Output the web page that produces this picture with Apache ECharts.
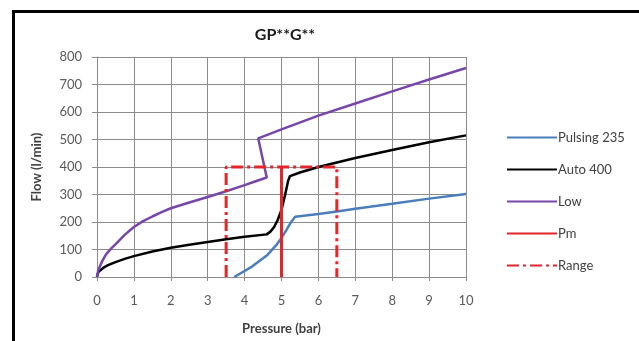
<!DOCTYPE html>
<html>
<head>
<meta charset="utf-8">
<script src="https://cdn.jsdelivr.net/npm/echarts@6/dist/echarts.min.js"></script>
<style>
    html, body { margin: 0; padding: 0; background: #fff; }
    #frame { position: absolute; left: 12px; top: 10px; width: 700px; height: 400px; border: 3px solid #000; box-sizing: border-box; }
    #chart { position: absolute; left: 0; top: 0; width: 639px; height: 341px; }
</style>
</head>
<body>
<div id="frame"></div>
<div id="chart"></div>
<script>
// values: [pressure (bar), flow (l/min)]
var pulsing235 = [[3.72, 0], [4.2, 38], [4.6, 78], [4.87, 118], [5.0, 142], [5.14, 172], [5.25, 198], [5.37, 219], [6, 229], [6.5, 238], [7, 248], [8, 266], [9, 285], [10, 302]];
var auto400 = [[0, 0], [0.02, 12], [0.05, 20], [0.1, 27], [0.2, 36], [0.3, 43], [0.5, 54], [0.75, 66], [1, 76], [1.5, 93], [2, 106], [2.5, 117], [3, 127], [3.5, 137], [4, 146], [4.6, 155], [4.7, 165], [4.8, 182], [4.9, 208], [5.0, 245], [5.1, 300], [5.18, 350], [5.23, 367], [5.5, 380], [6, 400], [7, 433], [8, 462], [9, 490], [10, 515]];
var low = [[0, 0], [0.03, 22], [0.07, 36], [0.1, 45], [0.15, 60], [0.25, 83], [0.4, 106], [0.5, 119], [0.75, 153], [1, 182], [1.25, 203], [1.5, 220], [1.75, 236], [2, 250], [2.5, 271], [3, 291], [3.5, 312], [4, 334], [4.3, 348], [4.6, 362], [4.37, 504], [5, 537], [6, 587], [7, 631], [8, 675], [9, 718], [10, 760]];
var pm = [[5, 0], [5, 400]];
var range = [[3.5, 0], [3.5, 400], [6.5, 400], [6.5, 0]];

var seriesNames = ['Pulsing 235', 'Auto 400', 'Low', 'Pm', 'Range'];
var xTicks = { min: 0, max: 10, interval: 1 };
var yTicks = { min: 0, max: 800, interval: 100 };

function lineSeries(name, data, color, width, dash) {
    return {
        name: name,
        type: 'line',
        data: data,
        symbol: 'none',
        smooth: false,
        lineStyle: { color: color, width: width, type: dash || 'solid' },
        itemStyle: { color: color }
    };
}

var myChart = echarts.init(document.getElementById('chart'), null, { renderer: 'canvas' });
myChart.setOption({
    animation: false,
    textStyle: { fontFamily: 'Lato, "Noto Sans", sans-serif' },
    title: {
        text: 'GP**G**',
        left: 280,
        top: 22,
        textAlign: 'center',
        textStyle: { fontSize: 16, fontWeight: 'bold', color: '#1a1a1a' }
    },
    legend: {
        data: seriesNames,
        orient: 'vertical',
        left: 501,
        top: 126,
        itemWidth: 50,
        itemHeight: 14,
        itemGap: 19,
        itemStyle: { opacity: 0 },
        textStyle: { fontSize: 13, color: '#404040', padding: [0, 0, 0, -4] }
    },
    grid: { left: 97, right: 173, top: 57, bottom: 64, containLabel: false },
    xAxis: {
        type: 'value',
        min: xTicks.min,
        max: xTicks.max,
        interval: xTicks.interval,
        name: 'Pressure (bar)',
        nameLocation: 'middle',
        nameGap: 45,
        nameTextStyle: { fontSize: 13, fontWeight: 'bold', color: '#404040' },
        axisLine: { show: true, lineStyle: { color: '#8c8c8c', width: 1 } },
        axisTick: { show: true, length: 4, lineStyle: { color: '#8c8c8c' } },
        axisLabel: { fontSize: 13, color: '#595959', margin: 17 },
        splitLine: { show: true, lineStyle: { color: '#8c8c8c', width: 1 } }
    },
    yAxis: {
        type: 'value',
        min: yTicks.min,
        max: yTicks.max,
        interval: yTicks.interval,
        name: 'Flow (l/min)',
        nameLocation: 'middle',
        nameGap: 54,
        nameRotate: 90,
        nameTextStyle: { fontSize: 13, fontWeight: 'bold', color: '#404040' },
        axisLine: { show: true, lineStyle: { color: '#8c8c8c', width: 1 } },
        axisTick: { show: true, length: 5, lineStyle: { color: '#8c8c8c' } },
        axisLabel: { fontSize: 13, color: '#595959', margin: 15 },
        splitLine: { show: true, lineStyle: { color: '#8c8c8c', width: 1 } }
    },
    series: [
        lineSeries('Pulsing 235', pulsing235, '#4a7ebb', 2.5),
        lineSeries('Auto 400', auto400, '#000000', 2.5),
        lineSeries('Low', low, '#7647a8', 2.5),
        lineSeries('Pm', pm, '#e2262c', 3),
        lineSeries('Range', range, '#e2262c', 3, [12, 4, 3, 4])
    ]
});
</script>
</body>
</html>
